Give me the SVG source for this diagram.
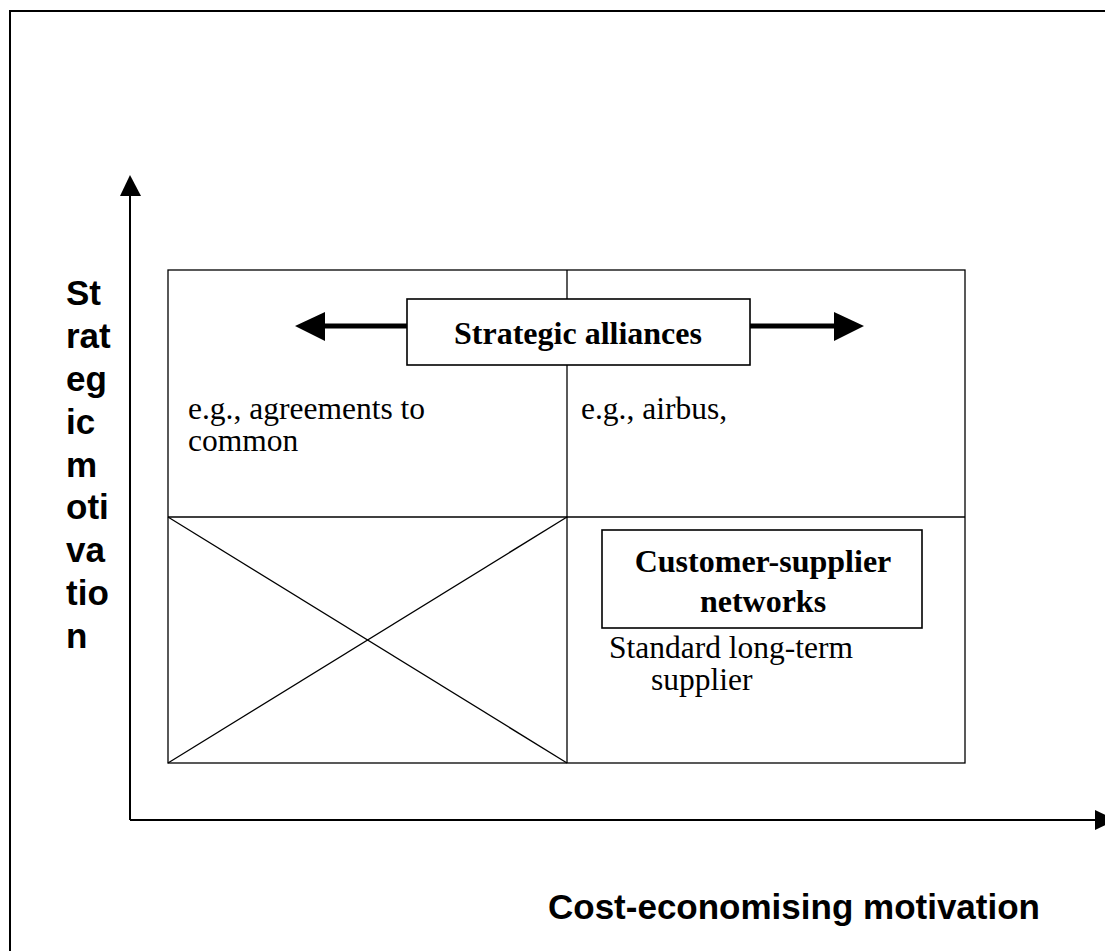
<svg xmlns="http://www.w3.org/2000/svg" width="1105" height="951" viewBox="0 0 1105 951">
<style>
.ln{stroke:#000;stroke-width:1.3;fill:none}
.ax{stroke:#000;stroke-width:2;fill:none}
.box{fill:#fff;stroke:#000;stroke-width:1.6}
.tb{font-family:"Liberation Serif","Times New Roman",serif;font-weight:bold;font-size:32px;fill:#000}
.tr{font-family:"Liberation Serif","Times New Roman",serif;font-size:31.5px;fill:#000}
.ab{font-family:"Liberation Sans",Arial,sans-serif;font-weight:bold;font-size:35px;fill:#000}
</style>
<rect x="0" y="0" width="1105" height="951" fill="#fff"/>
<g id="frame"><path class="ax" d="M10,951 V11 H1105"/></g>
<g id="axes">
<line class="ax" x1="130" y1="820" x2="130" y2="194"/>
<polygon points="130,175 120,196 141,196" fill="#000"/>
<line class="ax" x1="130" y1="820" x2="1096" y2="820"/>
<polygon points="1095,810 1095,830 1116,820" fill="#000"/>
</g>
<g id="grid">
<rect class="ln" x="168" y="270" width="797" height="493"/>
<line class="ln" x1="567" y1="270" x2="567" y2="763"/>
<line class="ln" x1="168" y1="517" x2="965" y2="517"/>
<line class="ln" x1="168" y1="517" x2="567" y2="763"/>
<line class="ln" x1="168" y1="763" x2="567" y2="517"/>
</g>
<g id="connectors">
<line x1="407" y1="326" x2="324" y2="326" stroke="#000" stroke-width="5"/>
<polygon points="295,326 325,312 325,341" fill="#000"/>
<line x1="749" y1="326" x2="836" y2="326" stroke="#000" stroke-width="5"/>
<polygon points="864,326 834,312 834,341" fill="#000"/>
</g>
<g id="strategic-alliances">
<rect class="box" x="407" y="299" width="343" height="66"/>
<text class="tb" x="578" y="344" text-anchor="middle">Strategic alliances</text>
</g>
<g id="customer-supplier">
<rect class="box" x="602" y="530" width="320" height="98"/>
<text class="tb" x="763" y="572" text-anchor="middle">Customer-supplier</text>
<text class="tb" x="763" y="612" text-anchor="middle">networks</text>
</g>
<g id="labels">
<text class="tr" x="188" y="419">e.g., agreements to</text>
<text class="tr" x="188" y="451">common</text>
<text class="tr" x="581" y="419">e.g., airbus,</text>
<text class="tr" x="609" y="658">Standard long-term</text>
<text class="tr" x="651" y="690">supplier</text>
</g>
<g id="y-label" class="ab">
<text x="66" y="305">St</text>
<text x="66" y="348">rat</text>
<text x="66" y="391">eg</text>
<text x="66" y="434">ic</text>
<text x="66" y="477">m</text>
<text x="66" y="519">oti</text>
<text x="66" y="562">va</text>
<text x="66" y="605">tio</text>
<text x="66" y="648">n</text>
</g>
<g id="x-label">
<text class="ab" x="548" y="919">Cost-economising motivation</text>
</g>
</svg>
